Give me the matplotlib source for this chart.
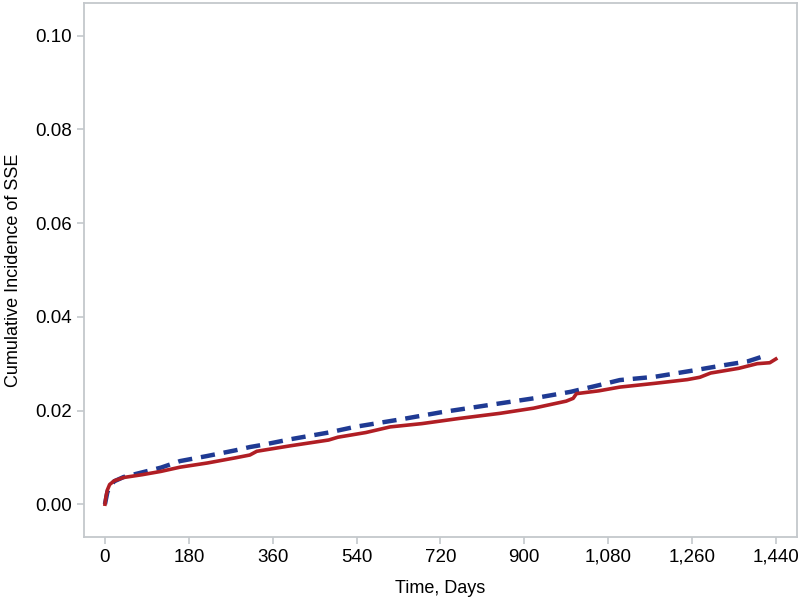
import matplotlib.pyplot as plt

plt.rcParams['font.family'] = ['Liberation Sans', 'DejaVu Sans']

# curves (days, cumulative incidence)
diasVermelho = [0, 2, 5, 10, 20, 40, 80, 120, 161, 220, 280, 311, 326, 400, 480, 500, 560,
                612, 680, 760, 848, 920, 990, 1005, 1012, 1060, 1105, 1180, 1250, 1277, 1300,
                1360, 1400, 1427, 1440]
valVermelho = [0.0, 0.0015, 0.0030, 0.0042, 0.0050, 0.0057, 0.0063, 0.0070, 0.0079, 0.0088,
               0.0099, 0.0105, 0.0113, 0.0125, 0.0137, 0.0143, 0.0153, 0.0165, 0.0172,
               0.0183, 0.0194, 0.0205, 0.0220, 0.0226, 0.0236, 0.0242, 0.0250, 0.0258,
               0.0266, 0.0271, 0.0280, 0.0290, 0.0300, 0.0302, 0.0310]

diasAzul = [0, 2, 5, 10, 20, 40, 80, 120, 161, 220, 280, 311, 340, 400, 480, 536, 640, 720,
            826, 920, 1000, 1060, 1105, 1180, 1260, 1330, 1380, 1420]
valAzul = [0.0, 0.0010, 0.0025, 0.0038, 0.0049, 0.0058, 0.0068, 0.0078, 0.0092, 0.0103,
           0.0115, 0.0122, 0.0127, 0.0139, 0.0153, 0.0165, 0.0182, 0.0196, 0.0212, 0.0226,
           0.0240, 0.0254, 0.0265, 0.0272, 0.0285, 0.0297, 0.0305, 0.0318]

xticks = [0, 180, 360, 540, 720, 900, 1080, 1260, 1440]
xlabels = ['0', '180', '360', '540', '720', '900', '1,080', '1,260', '1,440']
yticks = [0.00, 0.02, 0.04, 0.06, 0.08, 0.10]

fig = plt.figure(figsize=(8, 6.02), dpi=100)
ax = fig.add_axes([0.105, 0.108, 0.891, 0.887])

ax.plot(diasAzul, valAzul, color='#1f3a93', lw=3.2, ls=(0, (3.2, 2.0)))
ax.plot(diasVermelho, valVermelho, color='#b01e24', lw=2.6)

ax.set_xlim(-45, 1485)
ax.set_ylim(-0.007, 0.107)
ax.set_xticks(xticks)
ax.set_xticklabels(xlabels)
ax.set_yticks(yticks)
ax.set_yticklabels(['{:.2f}'.format(v) for v in yticks])

for s in ax.spines.values():
    s.set_color('#c4c8cc')
    s.set_linewidth(1.3)
ax.tick_params(colors='#c4c8cc', labelcolor='black', labelsize=13.5, length=5, width=1.2)

ax.set_xlabel('Time, Days', fontsize=13, labelpad=10)
ax.set_ylabel('Cumulative Incidence of SSE', fontsize=13, labelpad=10)

fig.savefig('out.png')
